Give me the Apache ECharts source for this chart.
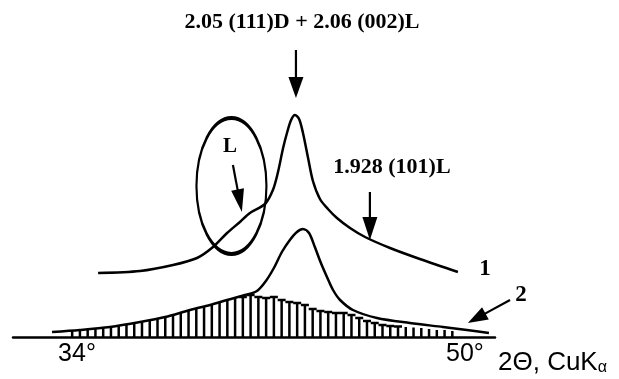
<!DOCTYPE html>
<html><head><meta charset="utf-8">
<script src="https://cdn.jsdelivr.net/npm/echarts@6/dist/echarts.min.js"></script>
<style>html,body{margin:0;padding:0;background:#fff}#c{width:619px;height:379px}</style>
</head><body><div id="c"></div>
<script>
// x: 2-theta in degrees, y: intensity (arbitrary units)
const xTickLabels = [34, 50];
const curve1 = [
  [34.87,64],[36.60,66],[37.96,72],[38.95,79],[39.61,90],[40.19,104],[40.72,115],
  [41.13,124],[41.75,133],[42.08,147],[42.29,165],[42.50,189],[42.66,204],[42.83,217],
  [42.99,222],[43.16,218],[43.32,204],[43.53,179],[43.73,156],[44.02,138],[44.35,128],
  [44.72,119],[45.26,109],[45.88,100],[46.91,89],[48.14,78],[49.71,65]
];
const curve2 = [
  [32.97,5],[34.12,7],[35.36,10],[36.60,15],[37.63,20],[38.66,27],[39.49,32],[40.19,37],
  [40.93,42],[41.42,46],[41.79,56],[42.12,69],[42.45,85],[42.78,97],[43.07,105],[43.32,108],
  [43.57,104],[43.81,90],[44.06,74],[44.31,60],[44.56,47],[44.85,37],[45.38,27],[46.37,19],
  [47.73,14],[49.09,10],[50.08,7],[50.99,4]
];
const barX = [33.80,34.12,34.44,34.76,35.08,35.40,35.72,36.04,36.36,36.68,37.00,37.32,37.64,
  37.96,38.28,38.60,38.92,39.24,39.56,39.88,40.20,40.52,40.84,41.16,41.48,41.80,42.12,42.44,
  42.76,43.08,43.40,43.72,44.04,44.36,44.68,45.00,45.32,45.64,45.96,46.28,46.60,46.92,47.24,
  47.56,47.88,48.20,48.52,48.84,49.16,49.48];
const barH = [6,7,8,9,9,10,12,13,14,15,17,19,20,22,25,27,28,31,33,35,37,39,40,42,40,39,40,37,
  35,34,32,28,26,25,24,24,22,19,16,14,12,11,10.5,10,9.5,9,8,7,7,6];
const capRange = [40.8, 47.3];
const ellipseCenter = [40.37, 151];
// arrows: [tailX, tailY, tipX, tipY]
const arrowTail = [[43.03,287],[40.43,172],[46.08,145],[51.86,37]];
const arrowTip  = [[43.03,239],[40.80,125],[46.08,97],[50.12,14]];
const labelTexts = ['2.05 (111)D + 2.06 (002)L', '1.928 (101)L', 'L', '1', '2'];
const labelPos = [[43.28,315],[46.99,170],[40.31,190],[50.83,67.5],[52.31,42]];
const labelSizes = [22,22,21,23,23];

const headSizes = [[15,21],[13,23],[15,23],[14,20]]; // [width, length] in px
const serif = '"Liberation Serif", "Times New Roman", serif';
const sans = '"Liberation Sans", Arial, sans-serif';

const chart = echarts.init(document.getElementById('c'), null, {renderer:'canvas'});
chart.setOption({
  animation: false,
  backgroundColor: '#fff',
  grid: {left: 13, right: 124, top: 0, bottom: 42},
  xAxis: {
    type: 'value', min: 31.36, max: 51.24,
    axisLine: {show: true, lineStyle: {color: '#000', width: 2.5}},
    axisTick: {show: false},
    splitLine: {show: false},
    axisLabel: {
      customValues: xTickLabels,
      formatter: v => v + '°',
      fontSize: 25, color: '#000', fontFamily: sans, margin: 5
    },
    name: '2Θ, CuK{s|α}',
    nameLocation: 'end', nameGap: 3,
    nameTextStyle: {
      fontSize: 26, color: '#000', fontFamily: sans, padding: [52,0,0,0],
      verticalAlign: 'middle', lineHeight: 26,
      rich: {s: {fontSize: 16, fontFamily: sans, color: '#000', verticalAlign: 'bottom', lineHeight: 26}}
    }
  },
  yAxis: {type: 'value', min: 0, max: 337, show: false},
  series: [
    {
      type: 'custom', silent: true,
      data: barX.map((x, i) => [x, barH[i]]),
      encode: {x: 0, y: 1},
      renderItem: (params, api) => {
        const x = api.value(0), h = api.value(1);
        const p0 = api.coord([x, 0]), p1 = api.coord([x, h]);
        const children = [{type: 'line', shape: {x1: p0[0], y1: p0[1], x2: p1[0], y2: p1[1]},
          style: {stroke: '#000', lineWidth: 2.5}}];
        if (x >= capRange[0] && x <= capRange[1]) {
          children.push({type: 'line', shape: {x1: p1[0]-4, y1: p1[1], x2: p1[0]+4, y2: p1[1]},
            style: {stroke: '#000', lineWidth: 2.5}});
        }
        return {type: 'group', children};
      }
    },
    {type: 'line', data: curve1, smooth: 0.3, symbol: 'none', silent: true,
      lineStyle: {color: '#000', width: 2.5}},
    {type: 'line', data: curve2, smooth: 0.3, symbol: 'none', silent: true,
      lineStyle: {color: '#000', width: 2.5}},
    {type: 'scatter', data: [ellipseCenter], symbol: 'circle', symbolSize: [70, 136], silent: true,
      itemStyle: {color: 'rgba(0,0,0,0)', borderColor: '#000', borderWidth: 3, opacity: 1}},
    {
      type: 'custom', silent: true, clip: false,
      data: arrowTail.map((t, i) => [t[0], t[1], arrowTip[i][0], arrowTip[i][1]]),
      encode: {x: [0, 2], y: [1, 3]},
      renderItem: (params, api) => {
        const a = api.coord([api.value(0), api.value(1)]);
        const b = api.coord([api.value(2), api.value(3)]);
        const [hw, hl] = headSizes[params.dataIndex];
        const dx = b[0]-a[0], dy = b[1]-a[1], len = Math.hypot(dx, dy);
        const ux = dx/len, uy = dy/len;
        const bx = b[0]-ux*hl, by = b[1]-uy*hl;
        return {type: 'group', children: [
          {type: 'line', shape: {x1: a[0], y1: a[1], x2: bx+ux*2, y2: by+uy*2},
            style: {stroke: '#000', lineWidth: 2.2}},
          {type: 'polygon', shape: {points: [[b[0], b[1]],
            [bx - uy*hw/2, by + ux*hw/2], [bx + uy*hw/2, by - ux*hw/2]]},
            style: {fill: '#000'}}
        ]};
      }
    },
    {
      type: 'scatter', clip: false, silent: true, symbolSize: 0,
      itemStyle: {opacity: 1},
      data: labelTexts.map((t, i) => ({name: t, value: labelPos[i],
        label: {fontSize: labelSizes[i]}})),
      label: {show: true, position: 'inside', formatter: p => p.name, color: '#000', opacity: 1,
        fontFamily: serif, fontWeight: 'bold'}
    }
  ]
});
</script></body></html>
